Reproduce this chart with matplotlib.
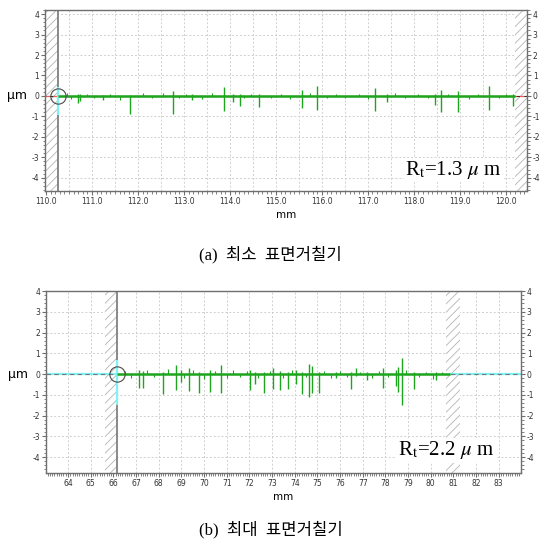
import matplotlib
matplotlib.use('Agg')
import matplotlib.pyplot as plt
from matplotlib.ticker import MultipleLocator, FormatStrFormatter

plt.rcParams['mathtext.fontset'] = 'stix'
plt.rcParams['hatch.linewidth'] = 0.6
plt.rcParams['axes.unicode_minus'] = False

# (a) minimum roughness profile, x in mm, y in um
a_xlim = (109.98, 120.46)
a_ylim = (-4.65, 4.2)
a_start, a_end = 110.27, 120.2
a_spike_x = [110.69, 110.74, 111.24, 111.83, 112.76, 113.18, 113.87, 114.06, 114.22, 114.63,
             115.57, 115.90, 117.16, 117.41, 118.46, 118.59, 118.96, 119.64, 120.16]
a_spike_up = [0.10, 0.08, 0.05, 0.05, 0.25, 0.10, 0.45, 0.10, 0.10, 0.10,
              0.30, 0.50, 0.40, 0.10, 0.10, 0.30, 0.25, 0.50, 0.10]
a_spike_dn = [-0.35, -0.25, -0.20, -0.90, -0.90, -0.20, -0.75, -0.30, -0.50, -0.55,
              -0.60, -0.70, -0.75, -0.30, -0.45, -0.80, -0.80, -0.70, -0.50]
a_small_x = [110.45, 110.55, 110.9, 111.05, 111.4, 111.6, 112.1, 112.3, 112.55, 112.9,
             113.05, 113.4, 113.6, 114.3, 114.45, 114.9, 115.1, 115.3, 115.75, 116.1,
             116.3, 116.5, 116.8, 117.0, 117.6, 117.8, 118.1, 118.3, 118.75, 119.2,
             119.4, 119.85, 120.0]
a_small_y = [0.12, -0.15, 0.10, -0.12, 0.10, -0.18, 0.12, -0.10, 0.15, -0.12,
             0.10, -0.15, 0.12, -0.10, 0.10, -0.12, 0.10, -0.15, 0.12, -0.10,
             0.10, -0.12, 0.10, -0.15, 0.12, -0.10, 0.10, -0.12, 0.10, -0.15,
             0.10, -0.12, 0.10]
a_rt = r'R$_\mathrm{t}$=1.3 $\mu$ m'
a_caption = '(a)  최소  표면거칠기'

# (b) maximum roughness profile
b_xlim = (63.03, 83.98)
b_ylim = (-4.77, 4.0)
b_start, b_end = 66.17, 80.85
b_spike_x = [67.14, 67.29, 68.17, 68.76, 68.99, 69.32, 69.80, 70.27, 70.76, 72.04,
             72.23, 72.64, 73.04, 73.34, 73.70, 74.04, 74.32, 74.63, 74.78, 75.06,
             75.84, 76.50, 76.70, 77.17, 77.88, 78.47, 78.57, 78.72, 79.24, 80.24]
b_spike_up = [0.20, 0.15, 0.10, 0.45, 0.20, 0.30, 0.10, 0.20, 0.42, 0.20,
              0.10, 0.10, 0.30, 0.15, 0.10, 0.20, 0.10, 0.47, 0.40, 0.10,
              0.10, 0.10, 0.30, 0.10, 0.30, 0.20, 0.35, 0.75, 0.10, 0.10]
b_spike_dn = [-0.67, -0.67, -0.95, -0.75, -0.40, -0.80, -0.90, -0.85, -0.90, -0.75,
              -0.50, -0.90, -0.70, -0.75, -0.70, -0.50, -0.95, -1.10, -0.90, -0.90,
              -0.20, -0.70, -0.10, -0.30, -0.65, -0.60, -0.85, -1.50, -0.70, -0.30]
b_small_x = [66.5, 66.8, 67.5, 67.8, 68.4, 69.1, 69.5, 70.0, 70.5, 71.0,
             71.3, 71.6, 71.9, 72.4, 72.9, 73.5, 73.9, 74.5, 75.3, 75.6,
             76.0, 76.3, 76.9, 77.4, 77.7, 78.1, 78.9, 79.5, 79.8, 80.1, 80.5]
b_small_y = [0.15, -0.20, 0.20, -0.15, 0.25, -0.20, 0.20, -0.25, 0.15, -0.20,
             0.20, -0.15, 0.15, -0.20, 0.15, -0.20, 0.20, -0.15, 0.15, -0.20,
             0.15, -0.15, 0.10, -0.20, 0.15, -0.15, 0.20, -0.15, 0.10, -0.25, 0.10]
b_rt = r'R$_\mathrm{t}$=2.2 $\mu$ m'
b_caption = '(b)  최대  표면거칠기'

GREEN = '#1ea51e'
CYAN = '#7ff3f3'
HATCH = '#b4b4b4'
FRAME = '#6e6e6e'


def hatch_span(ax, x0, x1):
    ax.axvspan(x0, x1, facecolor='white', edgecolor=HATCH, hatch='////',
               linewidth=0, zorder=1)


def style_axes(ax, xlim, ylim, xmajor, xminor, xgrid, xfmt):
    ax.set_xlim(*xlim)
    ax.set_ylim(*ylim)
    ax.xaxis.set_major_locator(MultipleLocator(xmajor))
    ax.xaxis.set_minor_locator(MultipleLocator(xminor))
    ax.xaxis.set_major_formatter(FormatStrFormatter(xfmt))
    ax.yaxis.set_major_locator(MultipleLocator(1))
    ax.yaxis.set_minor_locator(MultipleLocator(0.2))
    for x in [v * xgrid for v in range(int(xlim[0] / xgrid) + 1, int(xlim[1] / xgrid) + 1)]:
        ax.axvline(x, color='#cfcfcf', lw=0.7, ls=(0, (2, 2)), zorder=0.5)
    for y in range(-4, 5):
        ax.axhline(y, color='#cfcfcf', lw=0.7, ls=(0, (2, 2)), zorder=0.5)
    ax.tick_params(which='both', direction='out', color=FRAME, labelsize=5.5,
                   labelcolor='#333333', right=True, labelright=True, pad=1.2)
    ax.tick_params(which='major', length=3, width=0.8)
    ax.tick_params(which='minor', length=1.8, width=0.6)
    for s in ax.spines.values():
        s.set_color(FRAME)
        s.set_linewidth(1.0)
    ax.set_xlabel('mm', fontsize=7.5, labelpad=3)
    ax.set_ylabel('µm', fontsize=9, rotation=0, labelpad=10, va='center')
    ax.yaxis.set_label_coords(-0.058, (0 - ylim[0]) / (ylim[1] - ylim[0]))


def draw_profile(ax, start, end, sx, sup, sdn, smx, smy):
    ax.plot([start, end], [0, 0], color=GREEN, lw=1.8, zorder=3, solid_capstyle='butt')
    ax.vlines(sx, sdn, sup, color=GREEN, lw=1.0, zorder=3)
    ax.vlines(smx, 0, smy, color=GREEN, lw=0.8, zorder=3)


fig = plt.figure(figsize=(5.41, 5.5), dpi=100)

# ---- (a)
ax1 = fig.add_axes([0.0832, 0.6527, 0.891, 0.3291])
style_axes(ax1, a_xlim, a_ylim, 1.0, 0.1, 0.5, '%.1f')
hatch_span(ax1, a_xlim[0], a_start)
hatch_span(ax1, a_end, a_xlim[1])
ax1.axvline(a_start, color='#808080', lw=1.3, zorder=2)
ax1.axhline(0, color='#333333', lw=0.8, zorder=2)
ax1.axhline(0, color='#ff5555', lw=0.8, ls=(0, (4, 3)), zorder=2.5)
ax1.vlines([a_start], -0.93, 0.42, color=CYAN, lw=1.6, zorder=2.6)
draw_profile(ax1, a_start, a_end, a_spike_x, a_spike_up, a_spike_dn, a_small_x, a_small_y)
ax1.plot([a_start], [0], 'o', mfc='none', mec='#4a4a4a', ms=11, mew=0.8, zorder=4)
ax1.text(0.847, 0.116, a_rt, transform=ax1.transAxes, ha='center', va='center',
         fontsize=15, family='Liberation Serif', zorder=5,
         bbox=dict(facecolor='white', edgecolor='none', pad=1))

# ---- (b)
ax2 = fig.add_axes([0.085, 0.14, 0.878, 0.3309])
style_axes(ax2, b_xlim, b_ylim, 1.0, 0.1, 1.0, '%d')
hatch_span(ax2, 65.65, b_start)
hatch_span(ax2, 80.68, 81.3)
ax2.axvline(b_start, color='#808080', lw=1.3, zorder=2)
ax2.plot([b_xlim[0], b_start], [0, 0], color=CYAN, lw=1.6, zorder=2)
ax2.plot([b_end, b_xlim[1]], [0, 0], color=CYAN, lw=1.6, zorder=2)
ax2.axhline(0, color='#777777', lw=0.8, ls=(0, (4, 3)), zorder=2.5)
ax2.vlines([b_start], -1.5, 0.69, color=CYAN, lw=1.6, zorder=2.6)
draw_profile(ax2, b_start, b_end, b_spike_x, b_spike_up, b_spike_dn, b_small_x, b_small_y)
ax2.plot([b_start], [0], 'o', mfc='none', mec='#4a4a4a', ms=11, mew=0.8, zorder=4)
ax2.text(0.842, 0.126, b_rt, transform=ax2.transAxes, ha='center', va='center',
         fontsize=15, family='Liberation Serif', zorder=5,
         bbox=dict(facecolor='white', edgecolor='none', pad=1))

# captions
cap_font = ['Liberation Serif', 'Noto Sans CJK KR']
fig.text(0.5, 1 - 255 / 550, a_caption, ha='center', va='center', fontsize=12, family=cap_font)
fig.text(0.5, 1 - 530 / 550, b_caption, ha='center', va='center', fontsize=12, family=cap_font)

fig.savefig('out.png', dpi=100)
